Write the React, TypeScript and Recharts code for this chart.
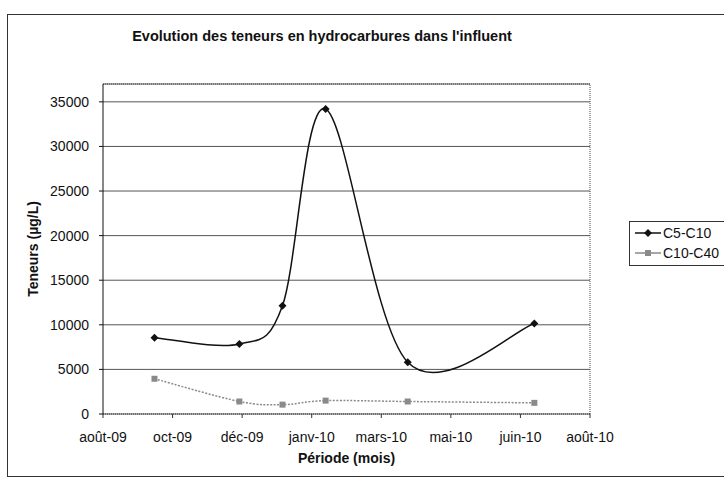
import React from "react";
import { LineChart, Line, XAxis, YAxis, CartesianGrid, ReferenceLine } from "recharts";

// dates are Excel serial numbers (scatter chart with mmm-yy format)
const dates = [40087, 40148, 40179, 40210, 40269, 40360];
const c5c10 = [8550, 7850, 12150, 34200, 5800, 10150];
const c10c40 = [3950, 1400, 1050, 1500, 1400, 1250];
const xTicks = [40050, 40100, 40150, 40200, 40250, 40300, 40350, 40400];
const yTicks = [0, 5000, 10000, 15000, 20000, 25000, 30000, 35000];
const MOIS = ["janv", "févr", "mars", "avr", "mai", "juin", "juil", "août", "sept", "oct", "nov", "déc"];

const data = dates.map((d, i) => ({ date: d, c5: c5c10[i], c10: c10c40[i] }));

const FONT = '"Liberation Sans", Arial, sans-serif';

const fmtDate = (serial: number) => {
  const dt = new Date((serial - 25569) * 86400000);
  return `${MOIS[dt.getUTCMonth()]}-${String(dt.getUTCFullYear()).slice(2)}`;
};

// smoothing like excel: bezier through the points, tangents from neighbours
const excelSmooth = (context: any) => {
  let pts: number[][] = [];
  return {
    areaStart() {},
    areaEnd() {},
    lineStart() {
      pts = [];
    },
    point(x: number, y: number) {
      pts.push([+x, +y]);
    },
    lineEnd() {
      const n = pts.length;
      if (!n) return;
      context.moveTo(pts[0][0], pts[0][1]);
      for (let i = 0; i < n - 1; i++) {
        const p0 = pts[Math.max(i - 1, 0)];
        const p1 = pts[i];
        const p2 = pts[i + 1];
        const p3 = pts[Math.min(i + 2, n - 1)];
        context.bezierCurveTo(
          p1[0] + (p2[0] - p0[0]) / 6,
          p1[1] + (p2[1] - p0[1]) / 6,
          p2[0] - (p3[0] - p1[0]) / 6,
          p2[1] - (p3[1] - p1[1]) / 6,
          p2[0],
          p2[1]
        );
      }
    },
  };
};

const Diamond = (p: any) => {
  const { cx, cy, index } = p;
  const r = 4;
  return <path key={`d-${index}`} d={`M${cx},${cy - r}L${cx + r},${cy}L${cx},${cy + r}L${cx - r},${cy}Z`} fill="#111" />;
};

const Square = (p: any) => {
  const { cx, cy, index } = p;
  return <rect key={`s-${index}`} x={cx - 3} y={cy - 3} width={6} height={6} fill="#8a8a8a" />;
};

export default function App() {
  return (
    <div style={{ position: "absolute", left: 0, top: 0, width: 724, height: 479, background: "#fff", fontFamily: FONT, overflow: "hidden" }}>
      <div style={{ position: "absolute", left: 7, top: 14, width: 780, height: 461, border: "1.5px solid #333" }} />
      <div style={{ position: "absolute", left: 0, top: 28, width: 644, textAlign: "center", fontWeight: "bold", fontSize: 14.5, color: "#111" }}>
        Evolution des teneurs en hydrocarbures dans l'influent
      </div>
      <LineChart width={724} height={479} data={data} margin={{ top: 84, right: 134, bottom: 0, left: 0 }}>
        <CartesianGrid horizontal vertical={false} stroke="#555" />
        <XAxis
          type="number"
          dataKey="date"
          domain={[40050, 40400]}
          ticks={xTicks}
          tickFormatter={fmtDate}
          height={65}
          tickSize={4}
          tickMargin={14}
          axisLine={{ stroke: "#333", strokeDasharray: "1 1" }}
          tickLine={{ stroke: "#333" }}
          tick={{ fill: "#111", fontSize: 14, fontFamily: FONT }}
          label={{ value: "Période (mois)", position: "insideBottom", offset: 16, fill: "#111", fontSize: 14, fontWeight: "bold", fontFamily: FONT }}
        />
        <YAxis
          type="number"
          domain={[0, 37000]}
          ticks={yTicks}
          width={103}
          tickSize={4}
          tickMargin={10}
          axisLine={{ stroke: "#111" }}
          tickLine={{ stroke: "#111" }}
          tick={{ fill: "#111", fontSize: 14, fontFamily: FONT }}
          label={{ value: "Teneurs (µg/L)", angle: -90, position: "insideLeft", offset: 33, fill: "#111", fontSize: 14, fontWeight: "bold", fontFamily: FONT, style: { textAnchor: "middle" } }}
        />
        <ReferenceLine y={37000} stroke="#444" strokeDasharray="1 1" />
        <ReferenceLine x={40400} stroke="#444" strokeDasharray="1 1" />
        <Line
          dataKey="c10"
          name="C10-C40"
          type={excelSmooth as any}
          stroke="#8a8a8a"
          strokeWidth={1.5}
          strokeDasharray="2 1.5"
          dot={Square}
          activeDot={false}
          isAnimationActive={false}
        />
        <Line
          dataKey="c5"
          name="C5-C10"
          type={excelSmooth as any}
          stroke="#111"
          strokeWidth={1.5}
          dot={Diamond}
          activeDot={false}
          isAnimationActive={false}
        />
      </LineChart>
      <div style={{ position: "absolute", left: 629, top: 221, width: 120, height: 43, border: "1px solid #333", fontSize: 14, color: "#111" }}>
        <div style={{ position: "absolute", left: 5, top: 3, display: "flex", alignItems: "center" }}>
          <svg width={26} height={14}>
            <line x1={0} y1={7} x2={26} y2={7} stroke="#111" strokeWidth={1.5} />
            <path d="M13,3L17,7L13,11L9,7Z" fill="#111" />
          </svg>
          <span style={{ marginLeft: 2 }}>C5-C10</span>
        </div>
        <div style={{ position: "absolute", left: 5, top: 23, display: "flex", alignItems: "center" }}>
          <svg width={26} height={14}>
            <line x1={0} y1={7} x2={26} y2={7} stroke="#8a8a8a" strokeWidth={1.5} />
            <rect x={10} y={4} width={6} height={6} fill="#8a8a8a" />
          </svg>
          <span style={{ marginLeft: 2 }}>C10-C40</span>
        </div>
      </div>
    </div>
  );
}
